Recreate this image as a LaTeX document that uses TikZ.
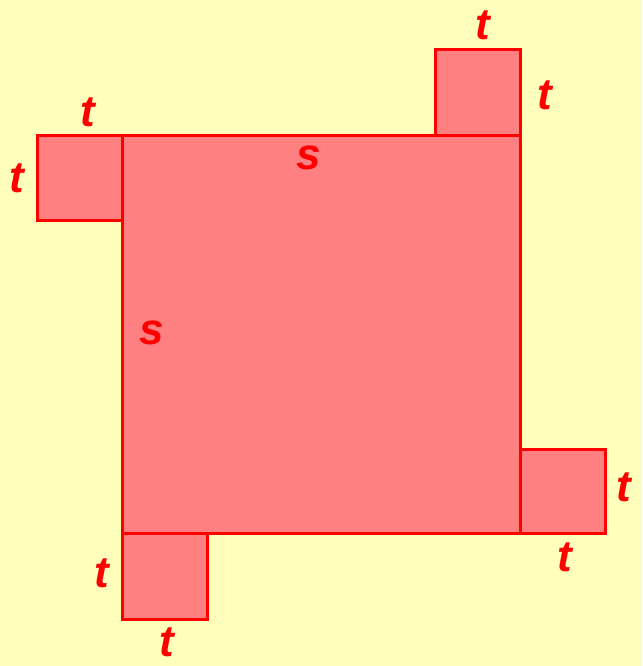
\documentclass[tikz,border=0pt]{standalone}
\usepackage{fontspec}
\setmainfont{Liberation Sans}
\definecolor{bgyellow}{HTML}{FFFFBB}
\definecolor{sqfill}{HTML}{FF8080}
\definecolor{sqline}{HTML}{FF0000}
\begin{document}
\begin{tikzpicture}[x=1pt, y=-1pt, line width=3pt,
  sq/.style={draw=sqline, fill=sqfill},
  lbl/.style={text=sqline, inner sep=0pt, font=\fontsize{44}{44}\selectfont\bfseries\itshape}]
  % 背景
  \fill[bgyellow] (0,0) rectangle (642,666);
  \useasboundingbox (0,0) rectangle (642,666);
  % 大正方形 A 左上、B 左下、C 右下、D 右上，边长 s
  \coordinate (A) at (122,135);
  \coordinate (B) at (122,533);
  \coordinate (C) at (520,533);
  \coordinate (D) at (520,135);
  \draw[sq] (A)--(B)--(C)--(D)--cycle;
  % 四个小正方形，边长 t
  \draw[sq] (A) rectangle ++(-85,85);
  \draw[sq] (D) rectangle ++(-85,-85);
  \draw[sq] (C) rectangle ++(85,-84);
  \draw[sq] (B) rectangle ++(85,86);
  % 标注
  \node[lbl] at (88,112) {t};
  \node[lbl] at (17,178) {t};
  \node[lbl] at (483,25) {t};
  \node[lbl] at (545,95) {t};
  \node[lbl] at (624,487) {t};
  \node[lbl] at (565,557) {t};
  \node[lbl] at (102,573) {t};
  \node[lbl] at (167,642) {t};
  \node[lbl] at (309,158) {s};
  \node[lbl] at (152,333) {s};
\end{tikzpicture}
\end{document}
